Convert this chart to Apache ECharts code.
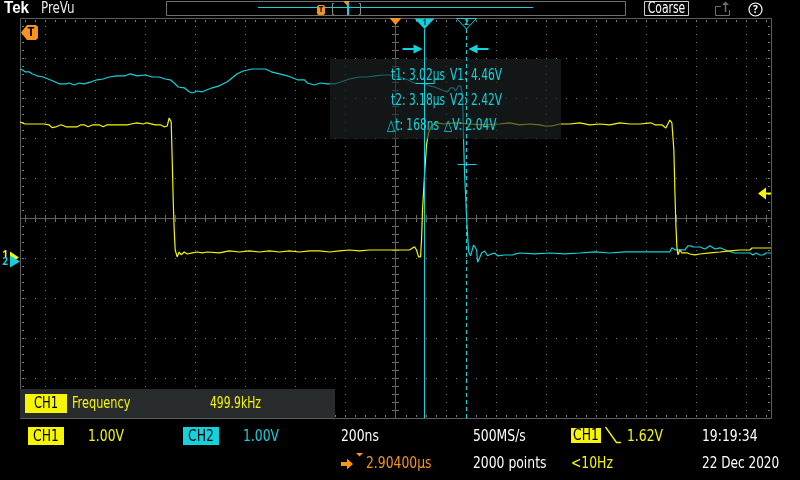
<!DOCTYPE html>
<html><head><meta charset="utf-8">
<script src="https://cdn.jsdelivr.net/npm/echarts@6/dist/echarts.min.js"></script>
<style>html,body{margin:0;padding:0;background:#000;}#c{width:800px;height:480px;}</style>
</head><body><div id="c"></div>
<script>
// ---------- acquisition settings shown on screen ----------
const TIMEBASE_US = 0.2;        // 200ns / div
const H_POSITION_US = 2.904;    // time at screen centre
const H_DIVS = 15;
const V_DIVS = 10;
const CH1_VDIV = 1.0;
const CH2_VDIV = 1.0;
const CH1_OFFSET_DIV = -1.0;    // ground marker position (div from centre)
const CH2_OFFSET_DIV = -1.075;
const TRIG_LEVEL_V = 1.62;

// ---------- waveforms [time µs, volts] ----------
const ch1Trace = [
 [1.404,3.40],[1.424,3.35],[1.460,3.35],[1.500,3.35],[1.520,3.33],[1.532,3.26],[1.548,3.28],[1.568,3.33],
 [1.588,3.28],[1.632,3.28],[1.648,3.33],[1.660,3.33],[1.676,3.28],[1.696,3.33],[1.720,3.33],[1.736,3.28],
 [1.752,3.33],[1.832,3.33],[1.848,3.35],[1.872,3.38],[1.896,3.35],[1.912,3.38],[1.944,3.33],[1.964,3.33],
 [1.980,3.28],[1.992,3.30],[2.000,3.50],[2.008,3.40],[2.012,2.45],[2.016,1.45],[2.020,0.70],[2.024,0.20],
 [2.032,0.03],[2.040,0.15],[2.048,0.08],[2.060,0.15],[2.072,0.10],[2.092,0.13],[2.112,0.15],[2.132,0.13],
 [2.152,0.15],[2.200,0.13],[2.240,0.18],[2.280,0.15],[2.320,0.18],[2.360,0.15],[2.400,0.18],[2.440,0.15],
 [2.480,0.18],[2.520,0.15],[2.560,0.18],[2.600,0.18],[2.640,0.15],[2.680,0.18],[2.720,0.20],[2.760,0.18],
 [2.800,0.20],[2.840,0.20],[2.880,0.20],[2.920,0.20],[2.960,0.20],[2.972,0.25],[2.980,0.28],[2.988,0.20],
 [2.996,0.03],[3.004,0.03],[3.008,0.45],[3.012,1.20],[3.020,2.08],[3.028,2.83],[3.036,3.13],[3.048,3.30],
 [3.064,3.38],[3.100,3.35],[3.140,3.38],[3.200,3.35],[3.260,3.33],[3.320,3.35],[3.360,3.38],[3.400,3.33],
 [3.440,3.35],[3.480,3.33],[3.500,3.30],[3.528,3.30],[3.560,3.35],[3.600,3.35],[3.640,3.38],[3.680,3.33],
 [3.720,3.35],[3.760,3.33],[3.800,3.38],[3.840,3.35],[3.880,3.35],[3.924,3.38],[3.940,3.33],[3.968,3.33],
 [3.984,3.25],[4.000,3.45],[4.008,3.38],[4.016,2.70],[4.020,1.70],[4.024,0.83],[4.028,0.28],[4.032,0.08],
 [4.040,0.20],[4.048,0.13],[4.052,0.08],[4.068,0.13],[4.080,0.10],[4.100,0.08],[4.120,0.10],[4.160,0.13],
 [4.200,0.15],[4.240,0.18],[4.280,0.20],[4.320,0.20],[4.328,0.25],[4.404,0.25]
];
const ch2Trace = [
 [1.404,4.80],[1.412,4.78],[1.424,4.73],[1.440,4.73],[1.452,4.68],[1.472,4.63],[1.496,4.60],[1.516,4.55],
 [1.536,4.50],[1.560,4.43],[1.588,4.43],[1.600,4.45],[1.620,4.40],[1.640,4.45],[1.660,4.43],[1.688,4.48],
 [1.712,4.53],[1.736,4.55],[1.760,4.60],[1.792,4.63],[1.824,4.63],[1.844,4.68],[1.872,4.63],[1.904,4.65],
 [1.932,4.60],[1.960,4.60],[1.984,4.55],[2.004,4.53],[2.020,4.45],[2.036,4.35],[2.060,4.33],[2.080,4.23],
 [2.092,4.20],[2.112,4.25],[2.132,4.23],[2.152,4.28],[2.172,4.33],[2.200,4.38],[2.232,4.48],[2.252,4.58],
 [2.272,4.68],[2.296,4.75],[2.332,4.80],[2.384,4.80],[2.408,4.73],[2.440,4.68],[2.472,4.63],[2.512,4.53],
 [2.540,4.53],[2.552,4.45],[2.580,4.40],[2.604,4.45],[2.632,4.43],[2.664,4.43],[2.688,4.48],[2.720,4.55],
 [2.760,4.60],[2.792,4.60],[2.824,4.63],[2.856,4.65],[2.880,4.65],[2.920,4.60],[2.952,4.53],[2.980,4.45],
 [3.020,4.43],[3.040,4.38],[3.060,4.35],[3.080,4.30],[3.100,4.25],[3.112,4.23],[3.124,4.33],[3.136,4.33],
 [3.144,4.25],[3.156,4.38],[3.164,4.38],[3.172,4.15],[3.176,3.03],[3.180,2.15],[3.184,1.65],[3.188,1.08],
 [3.196,0.23],[3.204,0.13],[3.216,0.40],[3.228,0.28],[3.232,-0.03],[3.240,0.08],[3.248,0.20],[3.260,0.25],
 [3.272,0.13],[3.288,0.18],[3.300,0.20],[3.312,0.13],[3.340,0.15],[3.372,0.15],[3.384,0.18],[3.400,0.20],
 [3.460,0.18],[3.520,0.20],[3.580,0.18],[3.640,0.20],[3.700,0.23],[3.760,0.20],[3.820,0.23],[3.880,0.23],
 [3.960,0.23],[4.000,0.23],[4.008,0.33],[4.020,0.28],[4.060,0.28],[4.072,0.38],[4.084,0.38],[4.092,0.35],
 [4.120,0.35],[4.140,0.30],[4.160,0.38],[4.180,0.30],[4.200,0.33],[4.232,0.25],[4.260,0.20],[4.320,0.20],
 [4.332,0.15],[4.344,0.20],[4.360,0.15],[4.372,0.15],[4.384,0.20],[4.404,0.20]
];

// ---------- cursors ----------
const cursorTime = [3.016, 3.184];   // µs
const cursorVolt = [4.46, 2.42];     // V (CH2)

// ---------- readouts ----------
const measLabel = 'Frequency';
const measValue = '499.9kHz';
const statusTexts = {
  ch1Scale: '1.00V', ch2Scale: '1.00V', timebase: '200ns', sampleRate: '500MS/s',
  trigLevel: '1.62V', time: '19:19:34', hpos: '2.90400µs', points: '2000 points',
  trigFreq: '<10Hz', date: '22 Dec 2020'
};

// ---------- derived axis ranges ----------
const xMin = H_POSITION_US - H_DIVS / 2 * TIMEBASE_US;
const xMax = H_POSITION_US + H_DIVS / 2 * TIMEBASE_US;
const ch1Min = (-V_DIVS / 2 - CH1_OFFSET_DIV) * CH1_VDIV;
const ch1Max = (V_DIVS / 2 - CH1_OFFSET_DIV) * CH1_VDIV;
const ch2Min = (-V_DIVS / 2 - CH2_OFFSET_DIV) * CH2_VDIV;
const ch2Max = (V_DIVS / 2 - CH2_OFFSET_DIV) * CH2_VDIV;

const YEL = '#f6f600', CYAN = '#12d3dc', ORANGE = '#f7941d';
const COND = '"DejaVu Sans Condensed","DejaVu Sans",sans-serif';
const SANS = '"Noto Sans","DejaVu Sans",sans-serif';

function graticule(params, api) {
  const X = t => api.coord([t, ch1Min])[0];
  const Y = v => api.coord([xMin, v])[1];
  const L = Math.round(X(xMin)), R = Math.round(X(xMax));
  const T = Math.round(Y(ch1Max)), B = Math.round(Y(ch1Min));
  const DOT = '#7a7a7a', LINE = '#5c5c5c';
  const kids = [];
  const rect = (x, y, w, h, c) => kids.push({type: 'rect', silent: true,
      shape: {x: x, y: y, width: w, height: h}, style: {fill: c || DOT}});
  const minorT = TIMEBASE_US / 5, minorV = CH1_VDIV / 5;
  const cx = Math.round(X(H_POSITION_US));
  const cy = Math.round(Y(ch1Min + V_DIVS / 2 * CH1_VDIV));
  const halfH = Math.floor(H_DIVS / 2);
  for (let k = -halfH; k <= halfH; k++) {
    if (k === 0) continue;
    const x = Math.round(X(H_POSITION_US + k * TIMEBASE_US));
    for (let j = 1; j < V_DIVS * 5; j++) rect(x, Math.round(Y(ch1Min + j * minorV)), 1, 1);
  }
  const nMinor = Math.floor(H_DIVS * 5 / 2);
  for (let i = 1; i < V_DIVS; i++) {
    if (i === V_DIVS / 2) continue;
    const y = Math.round(Y(ch1Min + i * CH1_VDIV));
    for (let m = -nMinor; m <= nMinor; m++) {
      const x = Math.round(X(H_POSITION_US + m * minorT));
      if (x <= L + 1 || x >= R - 1) continue;
      rect(x, y, 1, 1);
    }
  }
  for (let m = -nMinor; m <= nMinor; m++) {
    const x = Math.round(X(H_POSITION_US + m * minorT));
    if (x <= L + 2 || x >= R - 2) continue;
    rect(x, T + 2, 1, 2); rect(x, B - 3, 1, 2);
    rect(x, cy - 3, 1, 7, '#6a6a6a');
  }
  for (let j = 1; j < V_DIVS * 5; j++) {
    const y = Math.round(Y(ch1Min + j * minorV));
    rect(L + 2, y, 2, 1); rect(R - 3, y, 2, 1);
    rect(cx - 3, y, 7, 1, '#6a6a6a');
  }
  kids.push({type: 'line', silent: true, shape: {x1: L, y1: cy + 0.5, x2: R, y2: cy + 0.5}, style: {stroke: LINE, lineWidth: 1}});
  kids.push({type: 'line', silent: true, shape: {x1: cx + 0.5, y1: T, x2: cx + 0.5, y2: B}, style: {stroke: LINE, lineWidth: 1}});
  kids.push({type: 'rect', silent: true, shape: {x: L + 0.5, y: T + 0.5, width: R - L, height: B - T}, style: {fill: 'none', stroke: LINE, lineWidth: 1}});
  return {type: 'group', children: kids};
}

function ch1Markers(params, api) {
  const cs = params.coordSys;
  const top = cs.y, right = cs.x + cs.width, left = cs.x;
  const xc = Math.round(api.coord([H_POSITION_US, 0])[0]) + 0.5;
  const yt = Math.round(api.coord([xMin, TRIG_LEVEL_V])[1]) + 0.5;
  const yg = Math.round(api.coord([xMin, 0])[1]) + 0.5;
  return {type: 'group', children: [
    {type: 'polygon', shape: {points: [[xc - 6, top], [xc + 6, top], [xc, top + 7]]}, style: {fill: ORANGE}},
    {type: 'polygon', shape: {points: [[right - 13, yt], [right - 5, yt - 6], [right - 5, yt + 6]]}, style: {fill: YEL}},
    {type: 'line', shape: {x1: right - 6, y1: yt, x2: right, y2: yt}, style: {stroke: YEL, lineWidth: 2}},
    {type: 'polygon', shape: {points: [[left - 10, yg - 7], [left - 1, yg - 1], [left - 10, yg + 5]]}, style: {fill: YEL}},
    {type: 'text', style: {text: '1', x: left - 15, y: yg - 3, fill: YEL, font: 'bold 10px ' + SANS, align: 'center', verticalAlign: 'middle'}}
  ]};
}

function ch2Markers(params, api) {
  const left = params.coordSys.x;
  const yg = Math.round(api.coord([xMin, 0])[1]) + 0.5;
  return {type: 'group', children: [
    {type: 'polygon', shape: {points: [[left - 10, yg - 6], [left, yg], [left - 10, yg + 6]]}, style: {fill: CYAN}},
    {type: 'text', style: {text: '2', x: left - 15, y: yg + 1, fill: CYAN, font: 'bold 10px ' + SANS, align: 'center', verticalAlign: 'middle'}}
  ]};
}

function cursorItem(params, api) {
  const idx = params.dataIndex;
  const p = api.coord([api.value(0), api.value(1)]);
  const x = Math.round(p[0]) + 0.5, yv = Math.round(p[1]) + 0.5;
  const top = params.coordSys.y, bottom = top + params.coordSys.height;
  const ya = top + 31;
  const kids = [
    {type: 'line', shape: {x1: x, y1: top + 11, x2: x, y2: bottom}, style: {stroke: CYAN, lineWidth: 1, lineDash: idx ? [4, 3] : null}},
    {type: 'polygon', shape: {points: [[x - 10, top + 0.5], [x + 10, top + 0.5], [x, top + 11]]},
      style: idx ? {fill: 'none', stroke: CYAN, lineWidth: 1} : {fill: CYAN}},
    {type: 'text', style: {text: String(idx + 1), x: x, y: top + 4.5, fill: idx ? CYAN : '#003a3c', font: 'bold 8px ' + SANS, align: 'center', verticalAlign: 'middle'}},
    {type: 'line', shape: {x1: x - 9, y1: yv, x2: x + 10, y2: yv}, style: {stroke: CYAN, lineWidth: 1}}
  ];
  const s = idx ? 1 : -1;
  kids.push({type: 'rect', shape: {x: idx ? x + 8 : x - 22, y: ya - 1, width: 14, height: 2}, style: {fill: CYAN}});
  kids.push({type: 'polygon', shape: {points: [[x + s * 2, ya], [x + s * 11, ya - 4.5], [x + s * 11, ya + 4.5]]}, style: {fill: CYAN}});
  return {type: 'group', children: kids};
}

// ---------- UI graphics ----------
function txt(str, x, y, color, font, align, z, sx) {
  return {type: 'text', z: z || 50, silent: true, x: x, y: y, scaleX: sx || 1,
    style: {text: str, fill: color, font: font, align: align || 'left', verticalAlign: 'middle'}};
}
function box(x, y, w, h, fill, z) {
  return {type: 'rect', z: z || 45, silent: true, shape: {x: x, y: y, width: w, height: h}, style: {fill: fill}};
}
const F16 = '16px ' + COND, F15 = '15px ' + COND;
const SX = 0.86;

const dt = Math.round((cursorTime[1] - cursorTime[0]) * 1000);
const dv = (cursorVolt[0] - cursorVolt[1]).toFixed(2);
const readout = [
  ['t1: ' + cursorTime[0].toFixed(2) + 'µs', 'V1: ' + cursorVolt[0].toFixed(2) + 'V'],
  ['t2: ' + cursorTime[1].toFixed(2) + 'µs', 'V2: ' + cursorVolt[1].toFixed(2) + 'V'],
  ['△t: ' + dt + 'ns', '△V: ' + dv + 'V']
];

const graphics = [
  txt('Tek', 4, 9, '#ffffff', 'bold 16px "Liberation Sans",sans-serif', 'left', 50, 0.95),
  txt('PreVu', 41, 9, '#e8e8e8', F15, 'left', 50, 0.88),
  {type: 'rect', z: 45, silent: true, shape: {x: 166.5, y: 1.5, width: 459, height: 14}, style: {fill: 'none', stroke: '#6e6e6e', lineWidth: 1}},
  {type: 'line', z: 46, silent: true, shape: {x1: 258, y1: 7.5, x2: 533, y2: 7.5}, style: {stroke: CYAN, lineWidth: 1}},
  {type: 'rect', z: 47, silent: true, shape: {x: 317, y: 5, width: 8, height: 10, r: 2}, style: {fill: ORANGE}},
  txt('T', 321, 10, '#000', 'bold 8px ' + SANS, 'center', 48),
  {type: 'polyline', z: 46, silent: true, shape: {points: [[334, 3.5], [332.5, 3.5], [332.5, 14.5], [334, 14.5]]}, style: {fill: 'none', stroke: '#8a8a8a', lineWidth: 1}},
  {type: 'polyline', z: 46, silent: true, shape: {points: [[359, 3.5], [360.5, 3.5], [360.5, 14.5], [359, 14.5]]}, style: {fill: 'none', stroke: '#8a8a8a', lineWidth: 1}},
  box(347, 2, 2, 13, CYAN, 47),
  {type: 'polygon', z: 48, silent: true, shape: {points: [[343, 1], [350, 1], [346.5, 5]]}, style: {fill: ORANGE}},
  {type: 'rect', z: 45, silent: true, shape: {x: 644.5, y: 1.5, width: 44, height: 14}, style: {fill: 'none', stroke: '#cfcfcf', lineWidth: 1}},
  txt('Coarse', 666.5, 9, '#ffffff', F15, 'center', 50, 0.8),
  {type: 'polyline', z: 45, silent: true, shape: {points: [[721, 6.5], [715.5, 6.5], [715.5, 15.5], [729.5, 15.5], [729.5, 10]]}, style: {fill: 'none', stroke: '#6e6e6e', lineWidth: 1}},
  {type: 'line', z: 45, silent: true, shape: {x1: 725.5, y1: 12, x2: 725.5, y2: 3}, style: {stroke: '#6e6e6e', lineWidth: 1.5}},
  {type: 'polygon', z: 45, silent: true, shape: {points: [[722, 5], [725.5, 1.5], [729, 5]]}, style: {fill: '#6e6e6e'}},
  {type: 'circle', z: 45, silent: true, shape: {cx: 755.5, cy: 9.5, r: 6.5}, style: {fill: 'none', stroke: '#ffffff', lineWidth: 1.2}},
  txt('?', 755.5, 10, '#ffffff', 'bold 10px ' + SANS, 'center'),
  {type: 'polygon', z: 45, silent: true, shape: {points: [[21, 32.5], [27, 25], [36, 25], [38, 27], [38, 38], [36, 40], [27, 40]]}, style: {fill: ORANGE}},
  txt('T', 31, 33, '#000', 'bold 12px ' + SANS, 'center', 46),
  box(330, 59, 231, 80, 'rgba(30,36,36,0.62)', 40),
  box(20, 389, 315, 29, '#272b2c', 45),
  box(25, 394, 42, 19, YEL, 46),
  txt('CH1', 46, 404, '#000', F15, 'center', 50, SX),
  txt(measLabel, 72, 404, YEL, F15, 'left', 50, 0.84),
  txt(measValue, 210, 404, YEL, F15, 'left', 50, 0.8),
  box(28, 427, 36, 18, YEL, 46), txt('CH1', 46, 437, '#000', F16, 'center', 50, SX),
  txt(statusTexts.ch1Scale, 88, 437, YEL, F16, 'left', 50, SX),
  box(183, 427, 36, 18, CYAN, 46), txt('CH2', 201, 437, '#000', F16, 'center', 50, SX),
  txt(statusTexts.ch2Scale, 243, 437, CYAN, F16, 'left', 50, SX),
  txt(statusTexts.timebase, 341, 437, '#ffffff', F16, 'left', 50, SX),
  txt(statusTexts.sampleRate, 473, 437, '#ffffff', F16, 'left', 50, SX),
  box(571, 428, 30, 15, YEL, 46), txt('CH1', 586, 436, '#000', F16, 'center', 50, SX),
  {type: 'polyline', z: 46, silent: true, shape: {points: [[605.5, 427], [616.5, 442.5], [621, 442.5]]}, style: {fill: 'none', stroke: YEL, lineWidth: 1.3}},
  txt(statusTexts.trigLevel, 627, 437, YEL, F16, 'left', 50, SX),
  txt(statusTexts.time, 702, 437, '#ffffff', F16, 'left', 50, SX),
  box(341, 462, 7, 4, ORANGE, 46),
  {type: 'polygon', z: 46, silent: true, shape: {points: [[347, 458.5], [353, 464], [347, 469.5]]}, style: {fill: ORANGE}},
  {type: 'polygon', z: 46, silent: true, shape: {points: [[356, 453], [363, 453], [359.5, 456.5]]}, style: {fill: ORANGE}},
  txt(statusTexts.hpos, 366, 464, ORANGE, F16, 'left', 50, SX),
  txt(statusTexts.points, 473, 464, '#ffffff', F16, 'left', 50, SX),
  txt(statusTexts.trigFreq, 571, 464, YEL, F16, 'left', 50, SX),
  txt(statusTexts.date, 702, 464, '#ffffff', F16, 'left', 50, 0.84)
];
const colX = [[391, 450], [391, 450], [387, 444]];
readout.forEach((row, i) => {
  graphics.push(txt(row[0], colX[i][0], 76 + i * 25, CYAN, F15, 'left', 60, 0.79));
  graphics.push(txt(row[1], colX[i][1], 76 + i * 25, CYAN, F15, 'left', 60, 0.79));
});

const chart = echarts.init(document.getElementById('c'), null, {renderer: 'canvas'});
chart.setOption({
  backgroundColor: '#000000',
  animation: false,
  grid: {left: 20, top: 18, width: 751, height: 400, containLabel: false},
  xAxis: {type: 'value', min: xMin, max: xMax, show: false},
  yAxis: [
    {type: 'value', min: ch1Min, max: ch1Max, show: false},
    {type: 'value', min: ch2Min, max: ch2Max, show: false}
  ],
  series: [
    {type: 'custom', name: 'graticule', silent: true, z: 1, renderItem: graticule, data: [[xMin, ch1Min]]},
    {type: 'line', name: 'CH2', yAxisIndex: 1, z: 5, data: ch2Trace, showSymbol: false, symbol: 'none',
      lineStyle: {color: CYAN, width: 1.2}, silent: true},
    {type: 'line', name: 'CH1', yAxisIndex: 0, z: 6, data: ch1Trace, showSymbol: false, symbol: 'none',
      lineStyle: {color: YEL, width: 1.2}, silent: true},
    {type: 'custom', name: 'ch1markers', silent: true, z: 8, yAxisIndex: 0, renderItem: ch1Markers, data: [[xMin, 0]]},
    {type: 'custom', name: 'ch2markers', silent: true, z: 9, yAxisIndex: 1, renderItem: ch2Markers, data: [[xMin, 0]]},
    {type: 'custom', name: 'cursors', silent: true, z: 55, yAxisIndex: 1, renderItem: cursorItem,
      data: cursorTime.map((t, i) => [t, cursorVolt[i]])}
  ],
  graphic: graphics
});
</script></body></html>
